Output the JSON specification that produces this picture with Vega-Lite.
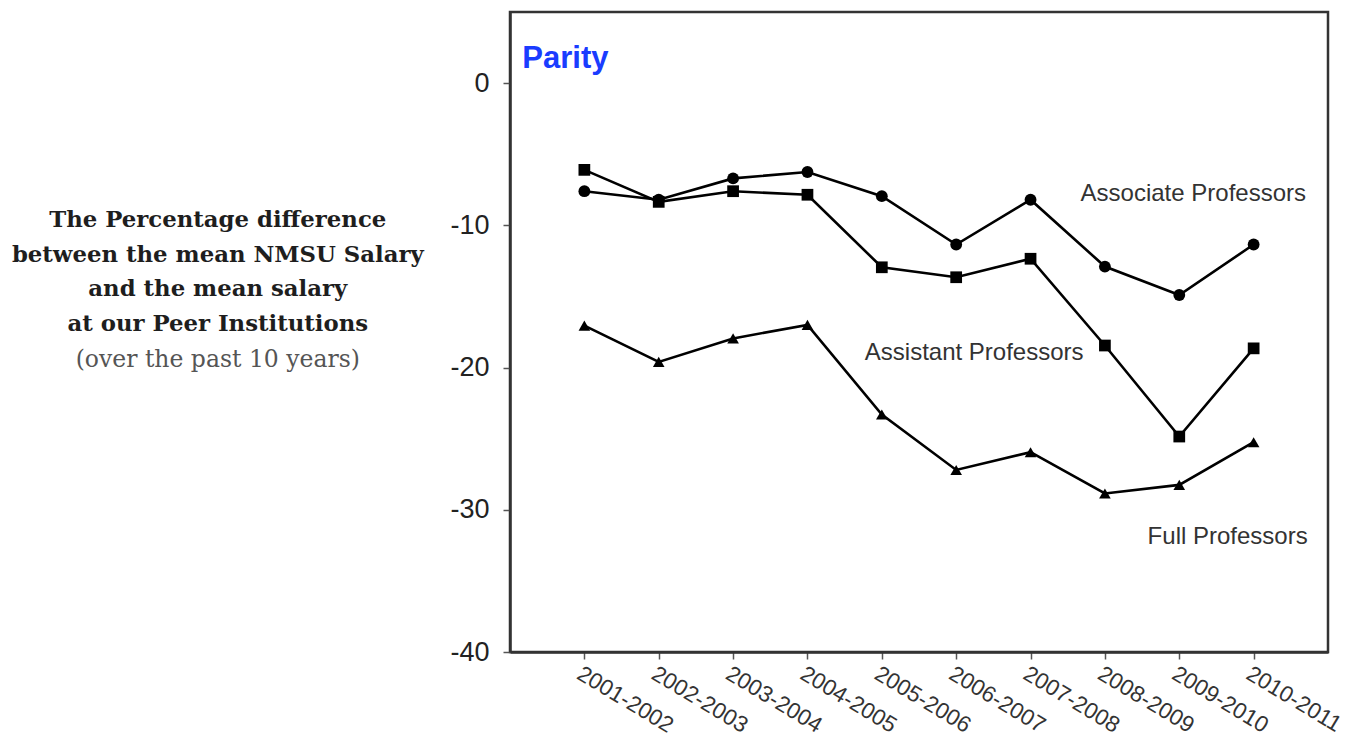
{
  "$schema": "https://vega.github.io/schema/vega-lite/v6.json",
  "padding": {"left": 0, "top": 10, "right": 0, "bottom": 0},
  "background": "white",
  "bounds": "flush",
  "spacing": 70,
  "config": {"view": {"stroke": null}, "font": "Liberation Sans"},
  "datasets": {
    "series": [
      {"year": "2001-2002", "series": "Associate", "value": -7.6},
      {"year": "2002-2003", "series": "Associate", "value": -8.2},
      {"year": "2003-2004", "series": "Associate", "value": -6.7},
      {"year": "2004-2005", "series": "Associate", "value": -6.25},
      {"year": "2005-2006", "series": "Associate", "value": -7.95},
      {"year": "2006-2007", "series": "Associate", "value": -11.35},
      {"year": "2007-2008", "series": "Associate", "value": -8.2},
      {"year": "2008-2009", "series": "Associate", "value": -12.9},
      {"year": "2009-2010", "series": "Associate", "value": -14.9},
      {"year": "2010-2011", "series": "Associate", "value": -11.35},
      {"year": "2001-2002", "series": "Assistant", "value": -6.1},
      {"year": "2002-2003", "series": "Assistant", "value": -8.35},
      {"year": "2003-2004", "series": "Assistant", "value": -7.6},
      {"year": "2004-2005", "series": "Assistant", "value": -7.85},
      {"year": "2005-2006", "series": "Assistant", "value": -12.95},
      {"year": "2006-2007", "series": "Assistant", "value": -13.65},
      {"year": "2007-2008", "series": "Assistant", "value": -12.35},
      {"year": "2008-2009", "series": "Assistant", "value": -18.45},
      {"year": "2009-2010", "series": "Assistant", "value": -24.85},
      {"year": "2010-2011", "series": "Assistant", "value": -18.65},
      {"year": "2001-2002", "series": "Full", "value": -17.05},
      {"year": "2002-2003", "series": "Full", "value": -19.6},
      {"year": "2003-2004", "series": "Full", "value": -17.95},
      {"year": "2004-2005", "series": "Full", "value": -17.0},
      {"year": "2005-2006", "series": "Full", "value": -23.3},
      {"year": "2006-2007", "series": "Full", "value": -27.2},
      {"year": "2007-2008", "series": "Full", "value": -25.95},
      {"year": "2008-2009", "series": "Full", "value": -28.85},
      {"year": "2009-2010", "series": "Full", "value": -28.25},
      {"year": "2010-2011", "series": "Full", "value": -25.25}
    ],
    "labels": [
      {"label": "Associate Professors", "year": "2009-2010", "value": -7.8},
      {"label": "Assistant Professors", "year": "2006-2007", "value": -19.0},
      {"label": "Full Professors", "year": "2010-2011", "value": -31.9}
    ],
    "parity": [
      {"label": "Parity", "year": "2001-2002", "value": 0}
    ],
    "caption": [
      {"line": 1, "text": "The Percentage difference", "bold": true},
      {"line": 2, "text": "between the mean NMSU Salary", "bold": true},
      {"line": 3, "text": "and the mean salary", "bold": true},
      {"line": 4, "text": "at our Peer Institutions", "bold": true},
      {"line": 5, "text": "(over the past 10 years)", "bold": false}
    ]
  },
  "hconcat": [
    {
      "width": 440,
      "height": 640,
      "data": {"name": "caption"},
      "encoding": {
        "x": {"datum": -0.01, "type": "quantitative", "scale": {"domain": [-1, 1], "nice": false}, "axis": null},
        "y": {"field": "line", "type": "quantitative", "scale": {"domain": [-5.03, 13.52], "reverse": true, "nice": false, "zero": false}, "axis": null},
        "text": {"field": "text"}
      },
      "layer": [
        {
          "transform": [{"filter": "datum.bold"}],
          "mark": {"type": "text", "font": "DejaVu Serif", "fontWeight": "bold", "fontSize": 22.8, "color": "#1e1e1e", "baseline": "middle", "align": "center"}
        },
        {
          "transform": [{"filter": "!datum.bold"}],
          "mark": {"type": "text", "font": "DejaVu Serif", "fontWeight": "normal", "fontSize": 23.5, "color": "#555", "baseline": "middle", "align": "center", "dy": 2}
        }
      ]
    },
    {
      "width": 818,
      "height": 640,
      "view": {"stroke": "#333", "strokeWidth": 2.5},
      "encoding": {
        "x": {
          "field": "year", "type": "ordinal",
          "scale": {"type": "point", "padding": 1,
            "domain": ["2001-2002","2002-2003","2003-2004","2004-2005","2005-2006","2006-2007","2007-2008","2008-2009","2009-2010","2010-2011"]},
          "axis": {"title": null, "labelAngle": 31, "labelAlign": "left", "labelBaseline": "top", "labelFontSize": 22.5, "labelColor": "#333", "labelPadding": 3, "tickSize": 7, "tickColor": "#555", "tickWidth": 1.5, "domainColor": "#333", "domainWidth": 2.5, "grid": false}
        },
        "y": {
          "field": "value", "type": "quantitative",
          "scale": {"domain": [-40, 5], "nice": false, "zero": false},
          "axis": {"title": null, "values": [0, -10, -20, -30, -40], "labelExpr": "datum.value + ''", "labelFontSize": 27, "labelColor": "#222", "labelPadding": 14, "tickSize": 7, "tickColor": "#555", "tickWidth": 1.5, "domainColor": "#333", "domainWidth": 2.5, "grid": false}
        }
      },
      "layer": [
        {
          "mark": {"type": "rule", "color": "#1a3cff", "strokeWidth": 2.5},
          "encoding": {"x": null, "y": {"datum": 0, "type": "quantitative"}}
        },
        {
          "data": {"name": "parity"},
          "mark": {"type": "text", "color": "#1a3cff", "fontWeight": "bold", "fontSize": 31, "align": "left", "baseline": "alphabetic", "dx": -62, "dy": -15},
          "encoding": {"text": {"field": "label"}}
        },
        {
          "data": {"name": "series"},
          "mark": {"type": "line", "color": "black", "strokeWidth": 2.6},
          "encoding": {"detail": {"field": "series"}}
        },
        {
          "data": {"name": "series"},
          "mark": {"type": "point", "filled": true, "color": "black", "opacity": 1},
          "encoding": {
            "shape": {"field": "series", "type": "nominal", "scale": {"domain": ["Associate", "Assistant", "Full"], "range": ["circle", "square", "triangle-up"]}, "legend": null},
            "size": {"field": "series", "type": "nominal", "scale": {"domain": ["Associate", "Assistant", "Full"], "range": [140, 135, 220]}, "legend": null}
          }
        },
        {
          "data": {"name": "labels"},
          "transform": [{"filter": "datum.label == 'Associate Professors'"}],
          "mark": {"type": "text", "fontSize": 24, "color": "#333", "align": "center", "baseline": "middle", "dx": 14},
          "encoding": {"text": {"field": "label"}}
        },
        {
          "data": {"name": "labels"},
          "transform": [{"filter": "datum.label == 'Assistant Professors'"}],
          "mark": {"type": "text", "fontSize": 24, "color": "#333", "align": "center", "baseline": "middle", "dx": 18},
          "encoding": {"text": {"field": "label"}}
        },
        {
          "data": {"name": "labels"},
          "transform": [{"filter": "datum.label == 'Full Professors'"}],
          "mark": {"type": "text", "fontSize": 24, "color": "#333", "align": "center", "baseline": "middle", "dx": -26},
          "encoding": {"text": {"field": "label"}}
        }
      ]
    }
  ]
}
